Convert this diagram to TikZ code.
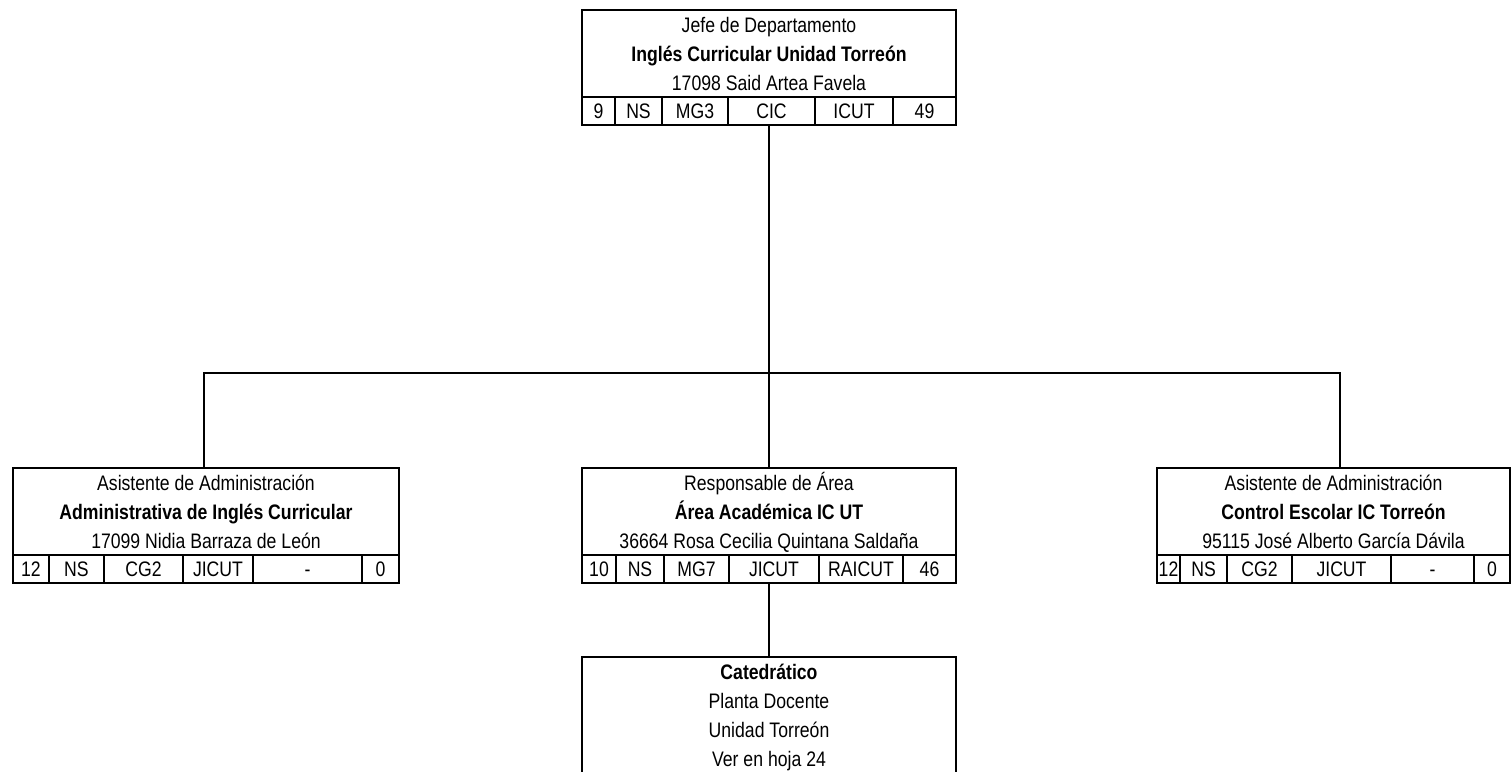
\documentclass[tikz,border=0pt]{standalone}
\usepackage{fontspec}
\setmainfont{Liberation Sans}[FakeStretch=0.84]
\tikzset{
    puesto/.style={draw, line width=2.4pt, inner sep=0pt, minimum height=115pt},
    renglon/.style={inner sep=0pt, text height=19pt, text depth=4pt},
    celda/.style={draw, line width=2.4pt, inner sep=0pt, minimum height=28pt, text height=19pt, text depth=4pt},
    conector/.style={line width=2pt}
}

\begin{document}
\begin{tikzpicture}[x=1pt, y=-1pt, font=\fontsize{21}{25}\selectfont]
    \useasboundingbox (0,0) rectangle (1511,771);

    % Jefe de Departamento
    \node[puesto, minimum width=374pt] (jefe) at (769,67.5) {};
    \node[renglon] (jefe1) at (769,24.5) {Jefe de Departamento};
    \node[renglon] (jefe2) at (769,53.5) {\bfseries Inglés Curricular Unidad Torreón};
    \node[renglon] (jefe3) at (769,82.5) {17098 Said Artea Favela};
    \foreach \a/\b/\txt [count=\i] in {582/615/9, 615/662/NS, 662/728/MG3, 728/815/CIC, 815/893/ICUT, 893/956/49}
        \node[celda, minimum width={(\b-\a)*1pt}] (jefec\i) at ({(\a+\b)/2},111) {\txt};

    % Asistente: Administrativa
    \node[puesto, minimum width=386pt] (admin) at (206,525.5) {};
    \node[renglon] (admin1) at (206,482.5) {Asistente de Administración};
    \node[renglon] (admin2) at (206,511.5) {\bfseries Administrativa de Inglés Curricular};
    \node[renglon] (admin3) at (206,540.5) {17099 Nidia Barraza de León};
    \foreach \a/\b/\txt [count=\i] in {13/49/12, 49/104/NS, 104/183/CG2, 183/253/JICUT, 253/362/-, 362/399/0}
        \node[celda, minimum width={(\b-\a)*1pt}] (adminc\i) at ({(\a+\b)/2},569) {\txt};

    % Responsable de Area
    \node[puesto, minimum width=374pt] (area) at (769,525.5) {};
    \node[renglon] (area1) at (769,482.5) {Responsable de Área};
    \node[renglon] (area2) at (769,511.5) {\bfseries Área Académica IC UT};
    \node[renglon] (area3) at (769,540.5) {36664 Rosa Cecilia Quintana Saldaña};
    \foreach \a/\b/\txt [count=\i] in {582/616/10, 616/664/NS, 664/729/MG7, 729/819/JICUT, 819/903/RAICUT, 903/956/46}
        \node[celda, minimum width={(\b-\a)*1pt}] (areac\i) at ({(\a+\b)/2},569) {\txt};

    % Asistente: Control Escolar
    \node[puesto, minimum width=353pt] (escolar) at (1333.5,525.5) {};
    \node[renglon] (escolar1) at (1333.5,482.5) {Asistente de Administración};
    \node[renglon] (escolar2) at (1333.5,511.5) {\bfseries Control Escolar IC Torreón};
    \node[renglon] (escolar3) at (1333.5,540.5) {95115 José Alberto García Dávila};
    \foreach \a/\b/\txt [count=\i] in {1157/1180/12, 1180/1227/NS, 1227/1292/CG2, 1292/1391/JICUT, 1391/1474/-, 1474/1510/0}
        \node[celda, minimum width={(\b-\a)*1pt}] (escolarc\i) at ({(\a+\b)/2},569) {\txt};

    % Catedratico
    \node[puesto, minimum width=374pt, minimum height=116pt] (cated) at (769,715) {};
    \node[renglon] (cated1) at (769,671.5) {\bfseries Catedrático};
    \node[renglon] (cated2) at (769,700.5) {Planta Docente};
    \node[renglon] (cated3) at (769,729.5) {Unidad Torreón};
    \node[renglon] (cated4) at (769,758.5) {Ver en hoja 24};

    % lineas de mando
    \coordinate (bus) at (769,373);
    \draw[conector] (jefe.south) -- (bus);
    \draw[conector] ([xshift=-2pt]admin.north) |- (bus) -| ([xshift=6.5pt]escolar.north);
    \draw[conector] (bus) -- (area.north);
    \draw[conector] (area.south) -- (cated.north);
\end{tikzpicture}
\end{document}
